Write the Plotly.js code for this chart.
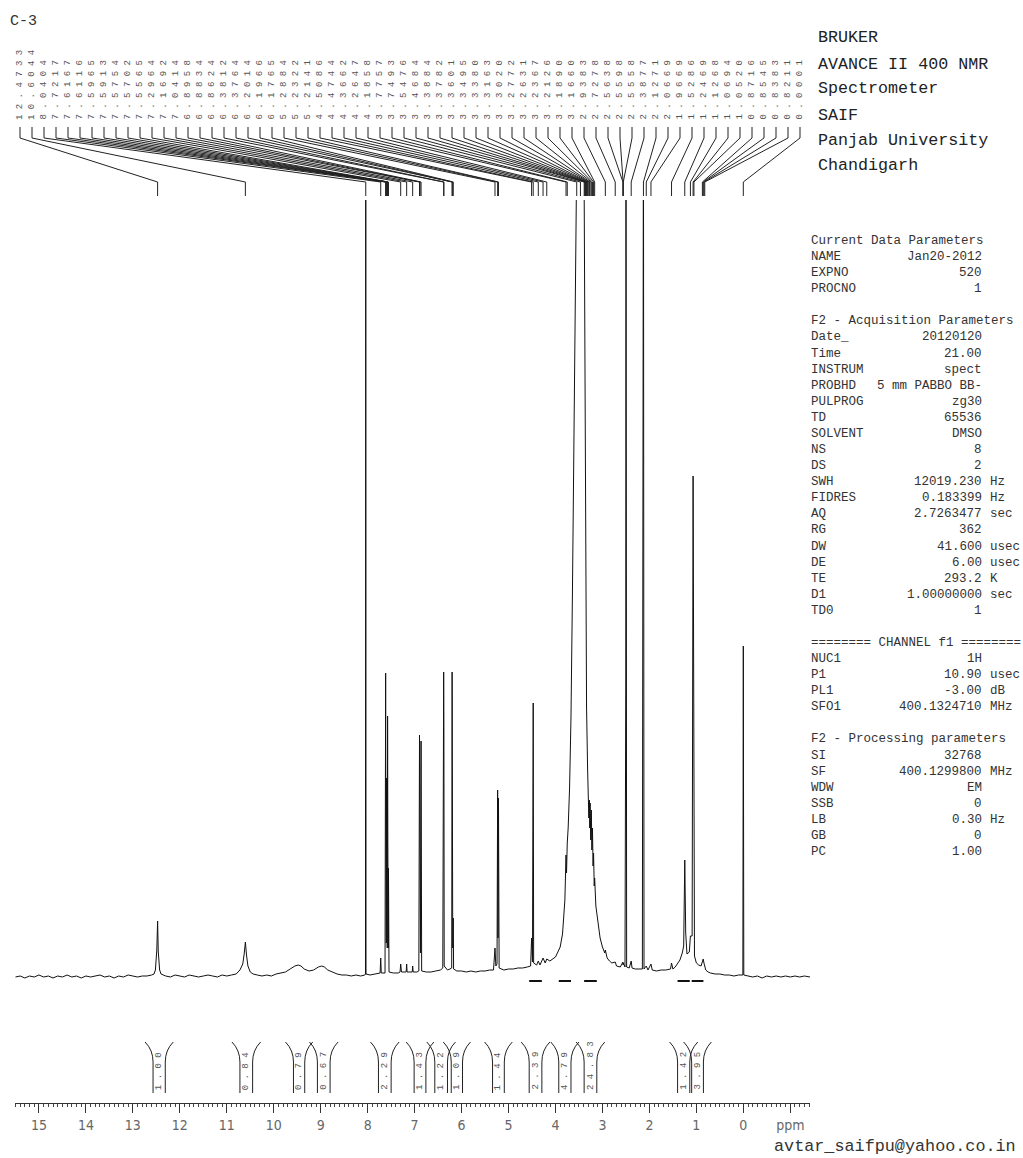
<!DOCTYPE html>
<html><head><meta charset="utf-8">
<script src="https://cdn.plot.ly/plotly-3.0.1.min.js"></script>
<style>html,body{margin:0;padding:0;background:#fff;}#chart{width:1023px;height:1158px;}</style>
</head><body><div id="chart"></div>
<script>
// ---------- data ----------
const shiftPpm = [15.50,15.40,15.30,15.20,15.10,15.00,14.90,14.80,14.70,14.60,14.50,14.40,14.30,14.20,14.10,14.00,13.90,13.80,13.70,13.60,13.50,13.40,13.30,13.20,13.10,13.00,12.90,12.80,12.70,12.60,
12.55,12.52,12.49,12.473,12.46,12.43,12.40,12.30,12.20,12.10,12.00,11.90,11.80,11.70,11.60,11.50,11.40,11.30,11.20,11.10,11.00,10.90,10.80,10.72,
10.66,10.63,10.604,10.58,10.55,10.50,10.44,10.35,10.25,10.15,10.05,9.95,9.85,9.75,9.65,9.55,9.48,9.42,9.35,9.25,9.15,9.05,8.98,8.92,8.85,8.75,8.65,8.55,8.45,8.35,8.25,8.15,
8.06,8.046,8.0404,8.035,7.95,7.85,7.78,7.735,7.7217,7.71,7.63,
7.6167,7.6116,7.603,7.5965,7.5913,7.583,7.5754,7.5702,7.562,7.5565,7.545,
7.45,7.35,7.31,7.2964,7.28,7.18,7.1692,7.16,7.05,7.0414,7.03,6.95,6.91,
6.8958,6.8834,6.875,6.8624,6.85,6.75,6.65,6.55,6.45,6.40,
6.3812,6.3764,6.37,6.30,6.25,6.21,6.2014,6.1966,6.188,6.1765,6.17,
6.10,6.00,5.90,5.80,5.70,5.60,5.50,5.40,5.32,5.2884,5.27,5.245,5.2322,5.224,5.2141,5.20,
5.10,5.00,4.90,4.80,4.70,4.60,4.53,4.5086,4.49,4.4744,4.465,4.40,4.3662,4.33,4.2647,4.22,4.1858,4.12,4.05,4.00,3.95,3.90,3.85,3.80,
3.7757,3.765,3.7493,3.73,3.70,3.67,3.64,3.61,3.59,3.5476,3.50,3.4684,3.42,3.40,3.3884,3.3782,3.3601,3.3495,3.3380,3.3163,3.3020,3.29,
3.2772,3.27,3.2631,3.25,3.2367,3.225,3.2126,3.20,3.1890,3.175,3.1660,3.14,3.10,3.05,3.00,2.95,2.9383,2.90,2.85,2.80,2.7278,2.70,2.62,
2.5638,2.5598,2.5558,2.52,2.5031,2.4987,2.4942,2.485,2.43,2.3877,2.37,2.30,2.22,2.15,2.1271,2.115,2.0669,2.03,1.9669,1.94,1.85,1.75,1.65,1.55,1.5286,1.50,
1.45,1.40,1.35,1.30,1.27,1.2469,1.2269,1.20,1.15,1.1268,1.09,1.0694,1.0520,1.04,1.00,0.95,0.90,0.8716,0.8545,0.8383,0.8211,0.80,0.75,0.70,0.60,0.50,0.40,0.30,0.20,0.10,
0.01,0.0001,-0.01,-0.10,-0.20,-0.30,-0.40,-0.50,-0.60,-0.70,-0.80,-0.90,-1.00,-1.10,-1.20,-1.30,-1.42];
const intensity = [1,2,0,2,1,3,1,2,0,2,1,3,1,2,0,2,1,2,3,1,2,0,2,1,3,2,1,2,2,3,
4,8,28,57,27,8,4,2,1,3,2,1,3,2,1,2,3,2,1,3,2,3,4,8,
14,24,36,23,12,6,4,3,2,3,2,4,5,6,9,12,13,12,9,7,8,11,12,11,8,6,4,3,3,2,3,2,
3,4,900,4,3,4,5,5,20,5,5,
305,150,35,200,120,30,262,140,30,110,6,
5,5,6,14,6,6,14,6,6,12,6,6,7,
243,120,25,237,7,6,6,7,8,10,
306,250,12,8,9,10,306,210,30,60,9,
7,7,6,7,6,7,7,8,8,30,12,14,188,40,180,10,
8,9,9,10,10,11,12,40,16,275,15,13,17,13,20,15,19,17,19,21,26,31,44,78,
123,105,135,150,190,260,380,600,850,1100,1200,1200,1100,900,700,560,420,340,270,210,185,160,
178,150,175,138,168,128,150,112,125,92,100,72,55,40,31,25,28,20,17,15,16,12,11,
16,13,15,11,300,900,300,11,10,17,10,9,9,9,900,9,12,8,14,8,7,8,8,9,15,9,
11,14,18,25,32,118,45,24,26,42,42,502,60,22,15,13,12,17,19,15,11,8,6,5,4,4,3,3,2,3,
3,332,3,2,1,2,0,2,1,2,1,2,1,2,1,2,1];

const peakLabels = ['12.4733','10.6044','8.0404','7.7217','7.6167','7.6116','7.5965','7.5913','7.5754','7.5702','7.5565',
'7.2964','7.1692','7.0414','6.8958','6.8834','6.8624','6.3812','6.3764','6.2014','6.1966','6.1765',
'5.2884','5.2322','5.2141','4.5086','4.4744','4.3662','4.2647','4.1858','3.7757','3.7493','3.5476',
'3.4684','3.3884','3.3782','3.3601','3.3495','3.3380','3.3163','3.3020','3.2772','3.2631','3.2367',
'3.2126','3.1890','3.1660','2.9383','2.7278','2.5638','2.5598','2.5558','2.3877','2.1271','2.0669',
'1.9669','1.5286','1.2469','1.1268','1.0694','1.0520','0.8716','0.8545','0.8383','0.8211','0.0001'];

const integralFrom   = [12.57,10.72,9.58,9.07,7.77,7.01,6.57,6.22,5.34,4.56,3.93,3.39,1.40,1.10];
const integralTo     = [12.31,10.45,9.34,8.80,7.50,6.76,6.30,5.98,5.09,4.29,3.67,3.12,1.14,0.85];
const integralValues = ['1.00','0.84','0.79','0.67','2.29','1.43','1.22','1.09','1.44','2.39','4.79','24.83','1.42','3.95'];
const integralTraceShown = [false,false,false,false,false,false,false,false,false,true,true,true,true,true];

const tickValues = [15,14,13,12,11,10,9,8,7,6,5,4,3,2,1,0,-1];
const tickLabels = ['15','14','13','12','11','10','9','8','7','6','5','4','3','2','1','0','ppm'];

const headerLines = ['BRUKER','AVANCE II 400 NMR','Spectrometer','SAIF','Panjab University','Chandigarh'];
const paramKeys = ['Current Data Parameters','NAME','EXPNO','PROCNO','','F2 - Acquisition Parameters','Date_','Time','INSTRUM','PROBHD','PULPROG','TD','SOLVENT','NS','DS','SWH','FIDRES','AQ','RG','DW','DE','TE','D1','TD0','','======== CHANNEL f1 ========','NUC1','P1','PL1','SFO1','','F2 - Processing parameters','SI','SF','WDW','SSB','LB','GB','PC'];
const paramValues = ['','Jan20-2012','520','1','','','20120120','21.00','spect','5 mm PABBO BB-','zg30','65536','DMSO','8','2','12019.230','0.183399','2.7263477','362','41.600','6.00','293.2','1.00000000','1','','','1H','10.90','-3.00','400.1324710','','','32768','400.1299800','EM','0','0.30','0','1.00'];
const paramUnits = ['','','','','','','','','','','','','','','','Hz','Hz','sec','','usec','usec','K','sec','','','','','usec','dB','MHz','','','','MHz','','','Hz','',''];

const sampleName = 'C-3';
const emailText = 'avtar_saifpu@yahoo.co.in';

// ---------- geometry helpers ----------
const PLOT = {l:15, r:810, t:200, b:1103};
const X_RANGE = [15.51, -1.42];
function pxToPpm(px){ return X_RANGE[0] + (px - PLOT.l) * (X_RANGE[1]-X_RANGE[0]) / (PLOT.r-PLOT.l); }
function pyToPaper(py){ return (PLOT.b - py) / (PLOT.b - PLOT.t); }
function pxToPaper(px){ return (px - PLOT.l) / (PLOT.r - PLOT.l); }

const MONO = 'Liberation Mono, DejaVu Sans Mono, monospace';
const annotations = [];
const shapes = [];

// peak labels and leader lines
let leader = '';
peakLabels.forEach((lab, i) => {
  const sx = 20 + 12 * i;
  annotations.push({xref:'paper', yref:'paper', x:pxToPaper(sx), y:pyToPaper(121), xanchor:'center', yanchor:'bottom',
    text: lab.split('').join(' '), textangle:-90, showarrow:false, font:{family:MONO, size:9, color:'#555'}, borderpad:0});
  const s = pxToPpm(sx), p = parseFloat(lab);
  leader += `M${s},${pyToPaper(127)} L${s},${pyToPaper(138)} L${p},${pyToPaper(182)} L${p},${pyToPaper(196)} `;
});
shapes.push({type:'path', xref:'x', yref:'paper', path:leader, line:{color:'#222', width:1}});

// integral brackets and values
const flare = 8 * (X_RANGE[0]-X_RANGE[1]) / (PLOT.r-PLOT.l);
let brackets = '';
integralFrom.forEach((a, i) => {
  const b = integralTo[i];
  brackets += `M${a+flare},${pyToPaper(1042)} Q${a},${pyToPaper(1050)} ${a},${pyToPaper(1062)} L${a},${pyToPaper(1093)} `;
  brackets += `M${b-flare},${pyToPaper(1042)} Q${b},${pyToPaper(1050)} ${b},${pyToPaper(1062)} L${b},${pyToPaper(1093)} `;
  annotations.push({xref:'x', yref:'paper', x:(a+b)/2, y:pyToPaper(1091), xanchor:'center', yanchor:'bottom',
    text: integralValues[i].split('').join(' '), textangle:-90, showarrow:false, font:{family:MONO, size:9, color:'#555'}, borderpad:0});
});
shapes.push({type:'path', xref:'x', yref:'paper', path:brackets, line:{color:'#222', width:1}});

// integral trace pieces on the spectrum
const intX = [], intY = [];
integralFrom.forEach((a, i) => {
  if (!integralTraceShown[i]) return;
  intX.push(a, integralTo[i], null); intY.push(-3, -3, null);
});

// header & parameter text
annotations.push({xref:'paper', yref:'paper', x:pxToPaper(8), y:pyToPaper(21), xanchor:'left', yanchor:'middle', text:sampleName, showarrow:false, font:{family:MONO, size:15, color:'#333'}});
const headerY = [38,64,89,115,141,166];
headerLines.forEach((t, i) => {
  annotations.push({xref:'paper', yref:'paper', x:pxToPaper(816), y:pyToPaper(headerY[i]), xanchor:'left', yanchor:'middle', text:t, showarrow:false, font:{family:MONO, size:16.7, color:'#222'}});
});
paramKeys.forEach((k, i) => {
  const y = pyToPaper(241 + 16.08 * i);
  if (k) annotations.push({xref:'paper', yref:'paper', x:pxToPaper(810), y:y, xanchor:'left', yanchor:'middle', text:k, showarrow:false, font:{family:MONO, size:12.5, color:'#333'}, borderpad:0});
  if (paramValues[i]) annotations.push({xref:'paper', yref:'paper', x:pxToPaper(983), y:y, xanchor:'right', yanchor:'middle', text:paramValues[i], showarrow:false, font:{family:MONO, size:12.5, color:'#333'}, borderpad:0});
  if (paramUnits[i]) annotations.push({xref:'paper', yref:'paper', x:pxToPaper(989), y:y, xanchor:'left', yanchor:'middle', text:paramUnits[i], showarrow:false, font:{family:MONO, size:12.5, color:'#333'}, borderpad:0});
});
annotations.push({xref:'paper', yref:'paper', x:pxToPaper(1018), y:pyToPaper(1146), xanchor:'right', yanchor:'middle', text:emailText, showarrow:false, font:{family:MONO, size:16.8, color:'#333'}});

const traces = [
  {x:shiftPpm, y:intensity, type:'scatter', mode:'lines', line:{color:'#111', width:1}, hoverinfo:'skip'},
  {x:intX, y:intY, type:'scatter', mode:'lines', line:{color:'#111', width:2}, hoverinfo:'skip', connectgaps:false}
];

const layout = {
  width:1023, height:1158,
  margin:{l:PLOT.l, r:1023-PLOT.r, t:PLOT.t, b:1158-PLOT.b, pad:0},
  paper_bgcolor:'#fff', plot_bgcolor:'#fff', showlegend:false,
  xaxis:{range:X_RANGE, showgrid:false, zeroline:false, showline:true, linecolor:'#333', linewidth:1,
    ticks:'outside', ticklen:9, tickwidth:1, tickcolor:'#333', tickmode:'array', tickvals:tickValues, ticktext:tickLabels,
    tickfont:{family:'Liberation Sans Narrow, DejaVu Sans Condensed, Arial Narrow, sans-serif', size:14, color:'#666'},
    minor:{tickmode:'linear', tick0:0, dtick:0.1, ticks:'outside', ticklen:3, tickwidth:1, tickcolor:'#444', showgrid:false},
    fixedrange:true},
  yaxis:{range:[-125, 778], visible:false, fixedrange:true},
  annotations:annotations, shapes:shapes
};
Plotly.newPlot('chart', traces, layout, {displayModeBar:false, staticPlot:true});
</script>
</body></html>
